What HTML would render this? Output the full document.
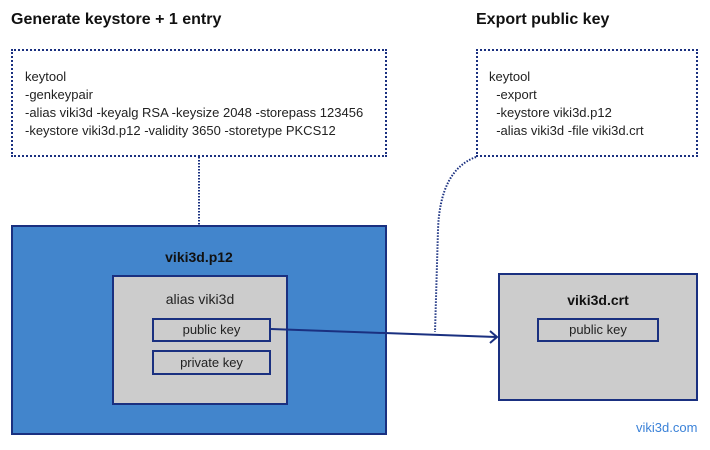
<!DOCTYPE html>
<html><head><style>
body{margin:0;width:710px;height:450px;background:#fff;position:relative;font-family:"Liberation Sans",Arial,sans-serif;overflow:hidden}
.a{position:absolute;box-sizing:border-box}
.t{font-size:13px;color:#222}
</style></head><body>
<div class="a" style="left:11px;top:11px;font-size:16px;font-weight:bold;color:#111">Generate keystore + 1 entry</div>
<div class="a" style="left:476px;top:11px;font-size:16px;font-weight:bold;color:#111">Export public key</div>
<div class="a" style="left:11px;top:49px;width:376px;height:108px;border:2px dotted #1a3080"></div>
<div class="a t" style="left:25px;top:68px;line-height:18px">keytool<br>-genkeypair<br>-alias viki3d -keyalg RSA -keysize 2048 -storepass 123456<br>-keystore viki3d.p12 -validity 3650 -storetype PKCS12</div>
<div class="a" style="left:476px;top:49px;width:222px;height:108px;border:2px dotted #1a3080"></div>
<div class="a t" style="left:489px;top:68px;line-height:18px">keytool<br>&nbsp;&nbsp;-export<br>&nbsp;&nbsp;-keystore viki3d.p12<br>&nbsp;&nbsp;-alias viki3d -file viki3d.crt</div>
<div class="a" style="left:11px;top:225px;width:376px;height:210px;background:#4285cc;border:2px solid #1a3080"></div>
<div class="a" style="left:11px;top:249px;width:376px;text-align:center;font-size:14px;font-weight:bold;color:#111">viki3d.p12</div>
<div class="a" style="left:112px;top:275px;width:176px;height:130px;background:#cccccc;border:2px solid #1a3080"></div>
<div class="a" style="left:112px;top:291px;width:176px;text-align:center;font-size:14px;color:#222">alias viki3d</div>
<div class="a t" style="left:152px;top:318px;width:119px;height:24px;border:2px solid #1a3080;text-align:center;line-height:20px">public key</div>
<div class="a t" style="left:152px;top:350px;width:119px;height:25px;border:2px solid #1a3080;text-align:center;line-height:21px">private key</div>
<div class="a" style="left:498px;top:273px;width:200px;height:128px;background:#cccccc;border:2px solid #1a3080"></div>
<div class="a" style="left:498px;top:292px;width:200px;text-align:center;font-size:14px;font-weight:bold;color:#111">viki3d.crt</div>
<div class="a t" style="left:537px;top:318px;width:122px;height:24px;border:2px solid #1a3080;text-align:center;line-height:20px">public key</div>
<div class="a" style="left:636px;top:420px;font-size:13px;color:#3b82d8">viki3d.com</div>
<svg class="a" style="left:0;top:0" width="710" height="450">
<line x1="199" y1="157" x2="199" y2="225" stroke="#1a3080" stroke-width="2" stroke-dasharray="1.5,1.5"/>
<path d="M476 157 Q440 170 438 230 L435 332" fill="none" stroke="#1a3080" stroke-width="2" stroke-dasharray="1.5,1.5"/>
<path d="M271 329 L496 337" fill="none" stroke="#1a3080" stroke-width="2"/>
<path d="M490 331 L497 337 L490 343" fill="none" stroke="#1a3080" stroke-width="2"/>
</svg>
</body></html>
